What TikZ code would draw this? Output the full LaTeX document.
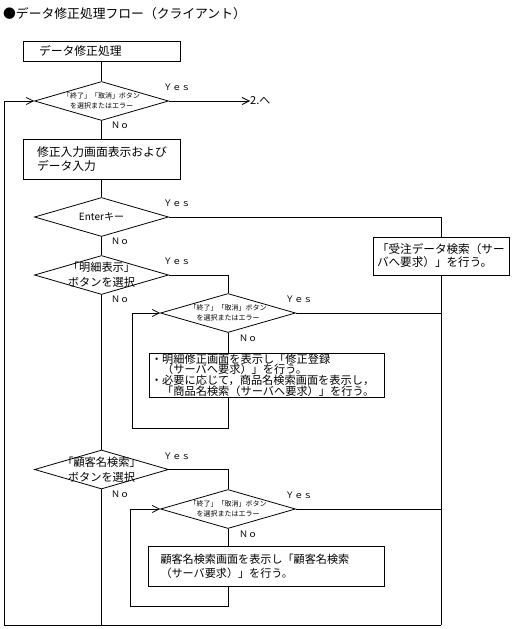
\documentclass[tikz,border=0pt]{standalone}
\usepackage{fontspec}
\setmainfont{Noto Sans CJK JP}
\usetikzlibrary{shapes.geometric,arrows.meta}
\newcommand{\fs}[2]{\fontsize{#1}{#2}\selectfont}

\begin{document}
\begin{tikzpicture}[x=1pt,y=-1pt]
        \tikzstyle{every node}=[inner sep=0pt, text=black]
        \tikzstyle{box}=[rectangle, draw=black, line width=0.8pt, align=left, font=\fs{11.8}{14}]
        \tikzstyle{decision}=[diamond, draw=black, line width=0.8pt, minimum width=134pt, minimum height=39pt, aspect=3.4]
        \tikzstyle{dtext}=[align=center, font=\fs{7}{10}]
        \tikzstyle{answer}=[font=\fs{9}{9}]
        \tikzstyle{edge}=[black, line width=0.8pt]
        \tikzstyle{back}=[edge, -{Straight Barb[length=7pt,width=7pt]}]

        \useasboundingbox (0,0) rectangle (512,629);

        \node[anchor=west, font=\fs{12.8}{14}] (title) at (3,14) {●データ修正処理フロー（クライアント）};

        \node[box, text width=125pt, inner xsep=16pt, minimum height=20pt] (start) at (101.5,51) {データ修正処理};
        \node[decision] (d1) at (101.5,101) {};
        \node[dtext] (d1t) at (d1) {「終了」「取消」ボタン\\を選択またはエラー};
        \node[anchor=west, font=\fs{11}{11}] (to2) at (250,101) {2.へ};
        \node[box, text width=129pt, inner xsep=14pt, minimum height=40pt] (input) at (101.5,159) {修正入力画面表示および\\データ入力};
        \node[decision] (enter) at (101.5,217) {};
        \node[font=\fs{10}{10}] (entert) at (enter) {Enterキー};
        \node[box, text width=128pt, inner xsep=4pt, minimum height=38pt, font=\fs{11.6}{13}] (search) at (441,256) {「受注データ検索（サー\\バへ要求）」を行う。};

        \node[decision] (d3) at (101.5,275) {};
        \node[dtext, font=\fs{11.2}{15}] (d3t) at (d3) {「明細表示」\\ボタンを選択};
        \node[decision, minimum width=135pt] (d4) at (228,313) {};
        \node[dtext] (d4t) at (d4) {「終了」「取消」ボタン\\を選択またはエラー};
        \node[box, text width=231pt, inner xsep=2pt, minimum height=44pt, font=\fs{11.2}{10.8}] (detail) at (266.5,375) {・明細修正画面を表示し「修正登録\\\hspace*{1em}（サーバへ要求）」を行う。\\・必要に応じて，商品名検索画面を表示し，\\\hspace*{1em}「商品名検索（サーバへ要求）」を行う。};

        \node[decision] (d5) at (101.5,469.5) {};
        \node[dtext, font=\fs{11.2}{15}] (d5t) at (d5) {「顧客名検索」\\ボタンを選択};
        \node[decision, minimum width=135pt] (d6) at (228,509) {};
        \node[dtext] (d6t) at (d6) {「終了」「取消」ボタン\\を選択またはエラー};
        \node[box, text width=212pt, inner xsep=12pt, minimum height=40pt, font=\fs{11.1}{14}] (cust) at (266.5,566.5) {顧客名検索画面を表示し「顧客名検索\\（サーバ要求）」を行う。};

        % Yes / No
        \node[answer] (y1) at ([shift={(8,-13.5)}]d1.east) {Ｙｅｓ};
        \node[answer] (n1) at ([shift={(18.5,4.5)}]d1.south) {Ｎｏ};
        \node[answer] (y2) at ([shift={(8,-14)}]enter.east) {Ｙｅｓ};
        \node[answer] (n2) at ([shift={(18.5,4.5)}]enter.south) {Ｎｏ};
        \node[answer] (y3) at ([shift={(8,-13.5)}]d3.east) {Ｙｅｓ};
        \node[answer] (n3) at ([shift={(18.5,4.5)}]d3.south) {Ｎｏ};
        \node[answer] (y4) at ([shift={(3,-13.5)}]d4.east) {Ｙｅｓ};
        \node[answer] (n4) at ([shift={(20,5)}]d4.south) {Ｎｏ};
        \node[answer] (y5) at ([shift={(8,-13.5)}]d5.east) {Ｙｅｓ};
        \node[answer] (n5) at ([shift={(18.5,4.5)}]d5.south) {Ｎｏ};
        \node[answer] (y6) at ([shift={(3,-13.5)}]d6.east) {Ｙｅｓ};
        \node[answer] (n6) at ([shift={(20,5)}]d6.south) {Ｎｏ};

        \coordinate (loopA) at (132,428);
        \coordinate (loopB) at (130,606);
        \coordinate (blc) at (4,625);
        \coordinate (brc) at (441,625);

        \draw[edge] (start) -- (d1) -- (input) -- (enter) -- (d3) -- (d5);
        \draw[back] (d1.east) -- (to2.west);
        \draw[edge] (enter.east) -| (search.north);
        \draw[edge] (search.south) -- (brc);

        \draw[edge] (d3.east) -| (d4.north);
        \draw[edge] (d4.east) -- (d4.east -| search.south);
        \draw[edge] (d4.south) -- (d4.south |- detail.north);
        \draw[back] (d4.south |- detail.south) |- (loopA) |- (d4.west);

        \draw[edge] (d5.east) -| (d6.north);
        \draw[edge] (d6.east) -- (d6.east -| search.south);
        \draw[edge] (d6.south) -- (d6.south |- cust.north);
        \draw[back] (d6.south |- cust.south) |- (loopB) |- (d6.west);

        \draw[edge] (d5.south) -- (d5.south |- blc);
        \draw[back] (brc) -- (blc) |- (d1.west);
    \end{tikzpicture}
\end{document}
